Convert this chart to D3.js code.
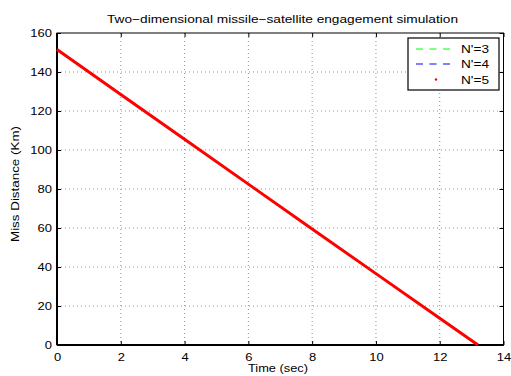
<!DOCTYPE html>
<html><head><meta charset="utf-8">
<script src="https://cdn.jsdelivr.net/npm/d3@7"></script>
<style>body{margin:0;background:#fff}svg{display:block;font-family:"Liberation Sans",Arial,sans-serif}</style>
</head><body>
<script>
const time = [0, 2, 4, 6, 8, 10, 12, 13.2];
const missN3 = [151.5, 128.5, 105.5, 82.5, 59.5, 36.6, 13.7, 0];
const missN4 = [151.5, 128.5, 105.5, 82.5, 59.5, 36.6, 13.7, 0];
const missN5 = [151.5, 128.5, 105.5, 82.5, 59.5, 36.6, 13.7, 0];
const xTicks = [0, 2, 4, 6, 8, 10, 12, 14];
const yTicks = [0, 20, 40, 60, 80, 100, 120, 140, 160];
const legendLabels = ["N'=3", "N'=4", "N'=5"];

const W = 511, H = 376;
const svg = d3.select("body").append("svg").attr("width", W).attr("height", H);
const L = 57, R = 503.5, T = 33, B = 345;
const x = d3.scaleLinear().domain([0, 14]).range([L, R]);
const y = d3.scaleLinear().domain([0, 160]).range([B, T]);
const SX = 1.18, fs = 11;

// grid
const g = svg.append("g");
xTicks.slice(1, -1).forEach(t => g.append("line").attr("x1", x(t)).attr("x2", x(t)).attr("y1", T).attr("y2", B)
  .attr("stroke", "#777").attr("stroke-width", 0.8).attr("stroke-dasharray", "1,3"));
yTicks.slice(1, -1).forEach(t => g.append("line").attr("x1", L).attr("x2", R).attr("y1", y(t)).attr("y2", y(t))
  .attr("stroke", "#777").attr("stroke-width", 0.8).attr("stroke-dasharray", "1,3"));

// axes
svg.append("g").attr("transform", `translate(0,${B})`)
  .call(d3.axisBottom(x).tickValues(xTicks).tickSize(-4).tickPadding(8).tickFormat(d3.format("d")))
  .call(s => { s.select(".domain").remove(); s.selectAll("line").attr("stroke", "#000");
    s.selectAll("text").attr("font-size", fs).attr("fill", "#000")
      .attr("transform", `scale(${SX},1)`); });
svg.append("g").attr("transform", `translate(0,${T})`)
  .call(d3.axisTop(x).tickValues(xTicks).tickSize(-4).tickFormat(""))
  .call(s => { s.select(".domain").remove(); s.selectAll("line").attr("stroke", "#000"); });
svg.append("g").attr("transform", `translate(${L},0)`)
  .call(d3.axisLeft(y).tickValues(yTicks).tickSize(-4).tickPadding(5).tickFormat(d3.format("d")))
  .call(s => { s.select(".domain").remove(); s.selectAll("line").attr("stroke", "#000");
    s.selectAll("text").attr("font-size", fs).attr("fill", "#000")
      .attr("x", 0).attr("transform", `translate(-5,0) scale(${SX},1)`); });
svg.append("g").attr("transform", `translate(${R},0)`)
  .call(d3.axisRight(y).tickValues(yTicks).tickSize(-4).tickFormat(""))
  .call(s => { s.select(".domain").remove(); s.selectAll("line").attr("stroke", "#000"); });
svg.append("rect").attr("x", L).attr("y", T).attr("width", R - L).attr("height", B - T)
  .attr("fill", "none").attr("stroke", "#000").attr("stroke-width", 1);
svg.append("line").attr("x1", L).attr("x2", R).attr("y1", B).attr("y2", B).attr("stroke", "#000").attr("stroke-width", 2);
svg.append("line").attr("x1", L).attr("x2", L).attr("y1", T).attr("y2", B).attr("stroke", "#000").attr("stroke-width", 2);

// lines
const line = d3.line().x((d, i) => x(time[i])).y(d => y(d));
svg.append("path").datum(missN3).attr("d", line).attr("fill", "none").attr("stroke", "#00ff00").attr("stroke-width", 1).attr("stroke-dasharray", "6,4");
svg.append("path").datum(missN4).attr("d", line).attr("fill", "none").attr("stroke", "#0000ff").attr("stroke-width", 1).attr("stroke-dasharray", "6,4");
svg.append("path").datum(missN5).attr("d", line).attr("fill", "none").attr("stroke", "#ff0000").attr("stroke-width", 3);

// legend
const lg = svg.append("g");
lg.append("rect").attr("x", 408).attr("y", 38).attr("width", 91).attr("height", 52).attr("fill", "#fff").attr("stroke", "#000").attr("stroke-width", 1.2);
const rowsY = [49, 64, 79.5];
const colors = ["#00ff00", "#0000ff", "#ff0000"];
rowsY.forEach((ry, i) => {
  if (i < 2) lg.append("line").attr("x1", 416).attr("x2", 456).attr("y1", ry).attr("y2", ry).attr("stroke", colors[i]).attr("stroke-width", 1).attr("stroke-dasharray", "7,6.5");
  else lg.append("circle").attr("cx", 436).attr("cy", ry).attr("r", 1.2).attr("fill", colors[i]);
  lg.append("text").attr("x", 461).attr("y", ry + 4.3).attr("font-size", fs)
    .attr("textLength", 28).attr("lengthAdjust", "spacingAndGlyphs").text(legendLabels[i]);
});

// labels
svg.append("text").attr("x", 282.5).attr("y", 23).attr("text-anchor", "middle").attr("font-size", 11.5)
  .attr("textLength", 351).attr("lengthAdjust", "spacingAndGlyphs")
  .text("Two\u2212dimensional missile\u2212satellite engagement simulation");
svg.append("text").attr("x", 278).attr("y", 372).attr("text-anchor", "middle").attr("font-size", 11.5)
  .attr("textLength", 60).attr("lengthAdjust", "spacingAndGlyphs").text("Time (sec)");
svg.append("text").attr("transform", `translate(19.3,184) rotate(-90)`).attr("text-anchor", "middle").attr("font-size", 11.5)
  .attr("textLength", 116).attr("lengthAdjust", "spacingAndGlyphs").text("Miss Distance (Km)");
</script>
</body></html>
